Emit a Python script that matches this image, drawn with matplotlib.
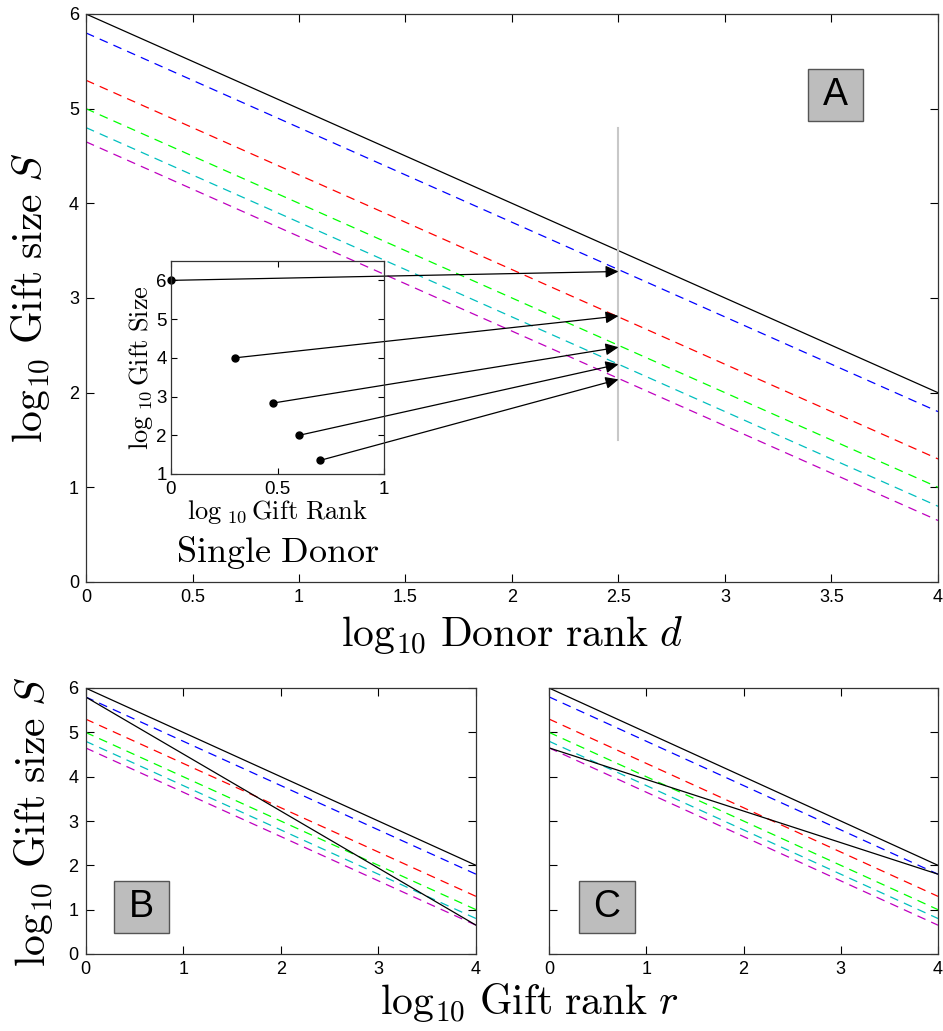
import matplotlib
matplotlib.use('Agg')
import matplotlib.pyplot as plt
from matplotlib.patches import Rectangle

plt.rcParams['mathtext.fontset'] = 'cm'
plt.rcParams['font.family'] = ['Liberation Sans', 'DejaVu Sans']

# log10 rank end points and the lines through them
rank_ends = [0, 4]
donor_line = [6.0, 2.0]
gift_lines = {
    'b': [5.8, 1.8],
    'r': [5.3, 1.3],
    'lime': [5.0, 1.0],
    'c': [4.8, 0.8],
    'm': [4.65, 0.65],
}
line_B = [5.8, 0.65]
line_C = [4.65, 1.8]

# single donor inset: log10 gift rank vs log10 gift size
gift_rank = [0.0, 0.301, 0.477, 0.602, 0.699]
gift_size = [6.0, 4.0, 2.83, 2.0, 1.35]
# where the arrows land on the d = 2.5 line
d_cut = 2.5
arrow_S = [3.28, 2.81, 2.48, 2.30, 2.14]
cut_span = [1.5, 4.8]

fig = plt.figure(figsize=(9.43, 10.31), dpi=100)


def style_axes(ax, size=13):
    ax.tick_params(direction='in', top=True, right=True, length=6, labelsize=size, pad=5)
    for s in ax.spines.values():
        s.set_linewidth(0.9)
        s.set_color('#333333')


def draw_lines(ax, lw=0.9):
    ax.plot(rank_ends, donor_line, color='k', lw=lw)
    for col, vals in gift_lines.items():
        ax.plot(rank_ends, vals, color=col, lw=lw, ls=(0, (7, 5)))


def label_box(ax, x0, y0, w, h, letter):
    ax.add_patch(Rectangle((x0, y0), w, h, transform=ax.transAxes,
                           fc='#bdbdbd', ec='#555555', lw=1, zorder=5))
    ax.text(x0 + w / 2, y0 + h / 2, letter, transform=ax.transAxes,
            ha='center', va='center', fontsize=27, zorder=6)


# ---- panel A
ax = fig.add_axes([86 / 943, 1 - 582 / 1031, 852 / 943, 568 / 1031])
draw_lines(ax)
ax.plot([d_cut, d_cut], cut_span, color='#c8c8c8', lw=1.5)
ax.set_xlim(0, 4)
ax.set_ylim(0, 6)
ax.set_xticks([0, 0.5, 1, 1.5, 2, 2.5, 3, 3.5, 4])
ax.set_xticklabels(['0', '0.5', '1', '1.5', '2', '2.5', '3', '3.5', '4'])
ax.set_yticks(range(7))
style_axes(ax)
ax.set_xlabel(r'$\mathrm{log}_{10}\ \mathrm{Donor\ rank}\ d$', fontsize=30, labelpad=6)
ax.set_ylabel(r'$\mathrm{log}_{10}\ \mathrm{Gift\ size}\ S$', fontsize=30, labelpad=12)
label_box(ax, 0.847, 0.812, 0.065, 0.091, 'A')

# inset
ins = fig.add_axes([171 / 943, 1 - 474 / 1031, 213 / 943, 213 / 1031])
ins.patch.set_alpha(0)
ins.plot(gift_rank, gift_size, 'o', color='k', ms=5, clip_on=False)
ins.set_xlim(0, 1)
ins.set_ylim(1, 6.5)
ins.set_xticks([0, 0.5, 1])
ins.set_xticklabels(['0', '0.5', '1'])
ins.set_yticks(range(1, 7))
ins.tick_params(direction='in', top=True, right=True, length=4, labelsize=13.5)
ins.tick_params(axis='x', pad=5)
ins.tick_params(axis='y', pad=3)
for s in ins.spines.values():
    s.set_linewidth(0.9)
    s.set_color('#333333')
ins.set_xlabel(r'$\mathrm{log}_{\ 10}\,\mathrm{Gift\ Rank}$', fontsize=19, labelpad=0)
ins.set_ylabel(r'$\mathrm{log}_{\ 10}\,\mathrm{Gift\ Size}$', fontsize=19, labelpad=1)
ins.text(0.5, -0.37, r'$\mathrm{Single\ Donor}$', transform=ins.transAxes,
         ha='center', va='center', fontsize=26)

for gr, gs, sy in zip(gift_rank, gift_size, arrow_S):
    ax.annotate('', xy=(d_cut, sy), xycoords='data', xytext=(gr, gs),
                textcoords=ins.transData,
                arrowprops=dict(arrowstyle='-|>,head_length=0.6,head_width=0.28',
                                color='k', lw=0.9, mutation_scale=13,
                                shrinkA=0, shrinkB=0))

# ---- panels B and C
axB = fig.add_axes([85.5 / 943, 1 - 954 / 1031, 390.5 / 943, 266 / 1031])
axC = fig.add_axes([549 / 943, 1 - 954 / 1031, 389 / 943, 266 / 1031])
for a, extra in [(axB, line_B), (axC, line_C)]:
    draw_lines(a)
    a.plot(rank_ends, extra, color='k', lw=0.9)
    a.set_xlim(0, 4)
    a.set_ylim(0, 6)
    a.set_xticks(range(5))
    a.set_yticks(range(7))
    style_axes(a)
axC.set_yticklabels([])
label_box(axB, 0.072, 0.080, 0.141, 0.194, 'B')
label_box(axC, 0.076, 0.080, 0.146, 0.194, 'C')

fig.text(0.036, 1 - 822 / 1031, r'$\mathrm{log}_{10}\ \mathrm{Gift\ size}\ S$', rotation=90,
         ha='center', va='center', fontsize=30)
fig.text(529 / 943, 1 - 1003 / 1031, r'$\mathrm{log}_{10}\ \mathrm{Gift\ rank}\ r$',
         ha='center', va='center', fontsize=30)

fig.savefig('out.png', dpi=100)
